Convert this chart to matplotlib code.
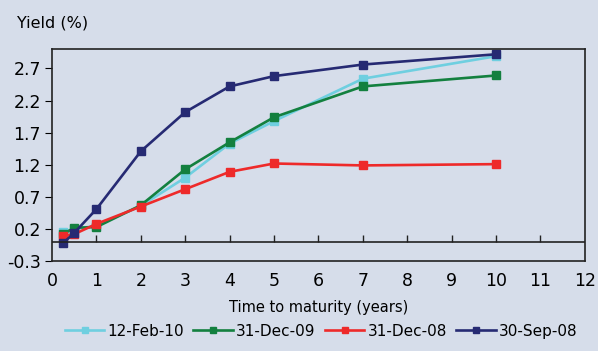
import numpy as np
import matplotlib
matplotlib.use("Agg")
from matplotlib import pyplot as plt

maturity = [0.25, 0.5, 1, 2, 3, 4, 5, 7, 10]
feb10 = [0.15, 0.20, 0.25, 0.56, 1.00, 1.53, 1.88, 2.54, 2.89]
dec09 = [0.12, 0.22, 0.23, 0.57, 1.13, 1.55, 1.94, 2.42, 2.59]
dec08 = [0.09, 0.12, 0.28, 0.55, 0.82, 1.09, 1.22, 1.19, 1.21]
sep08 = [-0.02, 0.14, 0.51, 1.41, 2.02, 2.42, 2.58, 2.76, 2.92]

series = [("12-Feb-10", feb10, "#6fcfe0"),
          ("31-Dec-09", dec09, "#13803f"),
          ("31-Dec-08", dec08, "#ee2a2a"),
          ("30-Sep-08", sep08, "#262a73")]

yticks = [-0.3, 0.2, 0.7, 1.2, 1.7, 2.2, 2.7]
xticks = list(range(0, 13))

bg = "#d6ddea"
fig = plt.figure(figsize=(5.98, 3.51), dpi=100, facecolor=bg)
ax = fig.add_axes([0.087, 0.256, 0.891, 0.604], facecolor=bg)

for name, vals, col in series:
    ax.plot(maturity, vals, color=col, lw=1.9, marker="s", markersize=5.5, label=name)

ax.axhline(0, color="#222222", lw=1.2)
ax.plot(xticks[1:-1], np.zeros(len(xticks) - 2), ls="", marker=2,
        markersize=5, color="#222222", mew=1)

ax.set_xlim(0, 12)
ax.set_ylim(-0.3, 3.0)
ax.set_xticks(xticks)
ax.set_yticks(yticks)
ax.set_yticklabels([f"{v:.1f}" for v in yticks])
ax.tick_params(axis="x", length=0, pad=8, labelsize=12.5)
ax.tick_params(axis="y", length=5, direction="out", labelsize=12.5, pad=3)
for s in ax.spines.values():
    s.set_color("#222222")
    s.set_linewidth(1.2)

ax.set_xlabel("Time to maturity (years)", fontsize=10.5, labelpad=7)
fig.text(0.028, 0.935, "Yield (%)", fontsize=11.5, va="center")

ax.legend(loc="upper center", bbox_to_anchor=(0.505, -0.23), ncol=4, frameon=False,
          fontsize=11, handlelength=2.6, handletextpad=0.2, columnspacing=0.6,
          markerscale=0.8)

plt.savefig("out.png", dpi=100, facecolor=bg)
